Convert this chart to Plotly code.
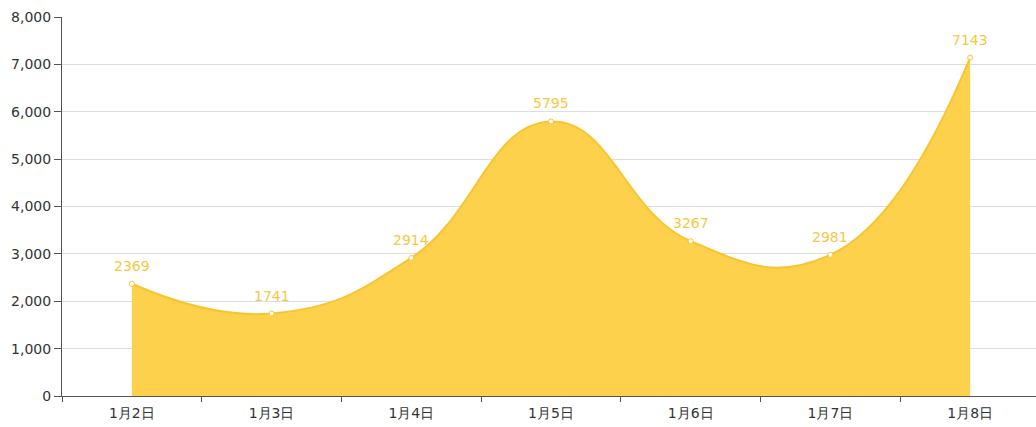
import plotly.graph_objects as go

categories = ["1月2日", "1月3日", "1月4日", "1月5日", "1月6日", "1月7日", "1月8日"]
values = [2369, 1741, 2914, 5795, 3267, 2981, 7143]
y_ticks = [0, 1000, 2000, 3000, 4000, 5000, 6000, 7000, 8000]

fig = go.Figure()
fig.add_trace(go.Scatter(
    x=categories, y=values,
    mode="lines+markers",
    line=dict(shape="spline", smoothing=1.3, color="#f7c532", width=2),
    fill="tozeroy", fillcolor="#fdd14b",
    marker=dict(size=5, color="white", line=dict(color="#f7c532", width=1)),
    cliponaxis=False, hoverinfo="x+y",
))

for c, v in zip(categories, values):
    fig.add_annotation(
        x=c, y=v, text=str(v), showarrow=False,
        yanchor="bottom", yshift=8,
        font=dict(color="#f5c842", size=14, family="DejaVu Sans"),
    )

fig.update_layout(
    width=1040, height=427,
    margin=dict(l=62, r=0, t=17, b=31),
    paper_bgcolor="white", plot_bgcolor="white",
    showlegend=False,
    font=dict(family="DejaVu Sans", size=14, color="#333"),
    xaxis=dict(
        type="category", range=[-0.5, 6.5], tickson="boundaries",
        ticks="outside", ticklen=5, tickcolor="#555",
        showline=True, linecolor="#555", linewidth=1,
        showgrid=False, tickfont=dict(size=14, color="#333"),
        ticklabelstandoff=4,
        automargin=False,
    ),
    yaxis=dict(
        range=[0, 8000], tickvals=y_ticks, tickformat=",",
        ticks="outside", ticklen=7, tickcolor="#555",
        showline=True, linecolor="#555", linewidth=1,
        showgrid=True, gridcolor="#dddddd", zeroline=False,
        tickfont=dict(size=14, color="#333"),
        automargin=False,
    ),
)

fig.write_html(
    "out.html",
    config={"displayModeBar": False},
    post_script="document.body.style.margin='0';document.body.style.overflow='hidden';",
)
